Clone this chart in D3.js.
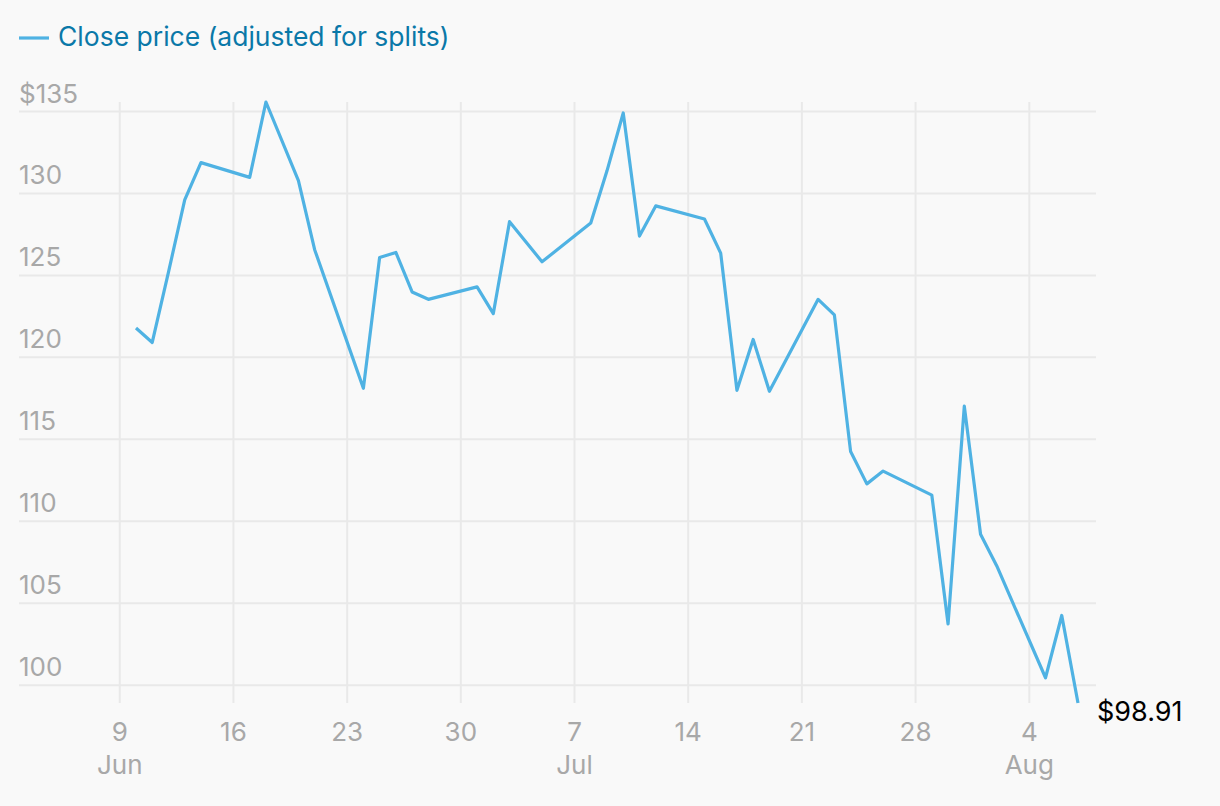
<!DOCTYPE html>
<html>
<head>
<meta charset="utf-8">
<script src="https://cdn.jsdelivr.net/npm/d3@7"></script>
<style>
  body { margin: 0; background: #f9f9f9; }
  svg { display: block; font-family: Inter, "Noto Sans", sans-serif; }
</style>
</head>
<body>
<div id="chart"></div>
<script>
// trading days, Jun 10 - Aug 7 2024
const dates = [
  "2024-06-10", "2024-06-11", "2024-06-12", "2024-06-13", "2024-06-14",
  "2024-06-17", "2024-06-18", "2024-06-20", "2024-06-21",
  "2024-06-24", "2024-06-25", "2024-06-26", "2024-06-27", "2024-06-28",
  "2024-07-01", "2024-07-02", "2024-07-03", "2024-07-05",
  "2024-07-08", "2024-07-09", "2024-07-10", "2024-07-11", "2024-07-12",
  "2024-07-15", "2024-07-16", "2024-07-17", "2024-07-18", "2024-07-19",
  "2024-07-22", "2024-07-23", "2024-07-24", "2024-07-25", "2024-07-26",
  "2024-07-29", "2024-07-30", "2024-07-31", "2024-08-01", "2024-08-02",
  "2024-08-05", "2024-08-06", "2024-08-07"
];
const closes = [
  121.79, 120.91, 125.2, 129.61, 131.88,
  130.98, 135.58, 130.78, 126.57,
  118.11, 126.09, 126.4, 123.99, 123.54,
  124.3, 122.67, 128.28, 125.83,
  128.2, 131.38, 134.91, 127.4, 129.24,
  128.44, 126.36, 117.99, 121.09, 117.93,
  123.54, 122.59, 114.25, 112.28, 113.06,
  111.59, 103.73, 117.02, 109.21, 107.27,
  100.45, 104.25, 98.91
];
const yTicks = [100, 105, 110, 115, 120, 125, 130, 135];
const legendLabel = "Close price (adjusted for splits)";

const parse = d3.timeParse("%Y-%m-%d");
const data = dates.map((d, i) => ({ date: parse(d), close: closes[i] }));

const width = 1220, height = 806;
const lineColor = "#4fb2e3";
const gridColor = "#e9e9e9";
const tickColor = "#a8a8a8";

const svg = d3.select("#chart")
  .append("svg")
  .attr("width", width)
  .attr("height", height);

svg.append("rect")
  .attr("width", width)
  .attr("height", height)
  .attr("fill", "#f9f9f9");

// X Scale
const x = d3.scaleTime()
  .domain(d3.extent(data, d => d.date))
  .range([136, 1078]);

// Y Scale
const y = d3.scaleLinear()
  .domain(d3.extent(data, d => d.close))
  .range([703, 102]);

const gridLeft = 19, gridRight = 1096;

// weekly ticks on Sundays
const xTicks = d3.timeSunday.range(parse("2024-06-09"), parse("2024-08-08"));

// vertical grid
svg.append("g")
  .selectAll("line")
  .data(xTicks)
  .join("line")
  .attr("x1", d => x(d))
  .attr("x2", d => x(d))
  .attr("y1", y.range()[1])
  .attr("y2", y.range()[0])
  .attr("stroke", gridColor)
  .attr("stroke-width", 2);

// horizontal grid
svg.append("g")
  .selectAll("line")
  .data(yTicks)
  .join("line")
  .attr("x1", gridLeft)
  .attr("x2", gridRight)
  .attr("y1", d => y(d))
  .attr("y2", d => y(d))
  .attr("stroke", gridColor)
  .attr("stroke-width", 2);

// Y labels
svg.append("g")
  .selectAll("text")
  .data(yTicks)
  .join("text")
  .attr("x", gridLeft)
  .attr("y", d => y(d) - 9)
  .attr("fill", tickColor)
  .style("font-size", "26px")
  .text(d => (d === yTicks[yTicks.length - 1] ? "$" : "") + d);

// X labels
const xl = svg.append("g")
  .selectAll("g")
  .data(xTicks)
  .join("g")
  .attr("transform", d => `translate(${x(d)},0)`);

xl.append("text")
  .attr("y", 741)
  .attr("text-anchor", "middle")
  .attr("fill", tickColor)
  .style("font-size", "26px")
  .text(d => d3.timeFormat("%-d")(d));

xl.filter((d, i) => i === 0 || d.getMonth() !== xTicks[i - 1].getMonth())
  .append("text")
  .attr("y", 774)
  .attr("text-anchor", "middle")
  .attr("fill", tickColor)
  .style("font-size", "26px")
  .text(d => d3.timeFormat("%b")(d));

// Line
const line = d3.line()
  .x(d => x(d.date))
  .y(d => y(d.close));

svg.append("path")
  .datum(data)
  .attr("d", line)
  .attr("fill", "none")
  .attr("stroke", lineColor)
  .attr("stroke-width", 3.2)
  .attr("stroke-linejoin", "round");

// end label
const last = data[data.length - 1];
svg.append("text")
  .attr("x", x(last.date) + 19)
  .attr("y", y(last.close) + 18)
  .attr("fill", "#000")
  .style("font-size", "27px")
  .text("$" + d3.format(".2f")(last.close));

// Legend
svg.append("line")
  .attr("x1", 19)
  .attr("x2", 49)
  .attr("y1", 38)
  .attr("y2", 38)
  .attr("stroke", lineColor)
  .attr("stroke-width", 3.2);

svg.append("text")
  .attr("x", 58)
  .attr("y", 46)
  .attr("fill", "#0a78a8")
  .style("font-size", "26.5px")
  .text(legendLabel);
</script>
</body>
</html>
